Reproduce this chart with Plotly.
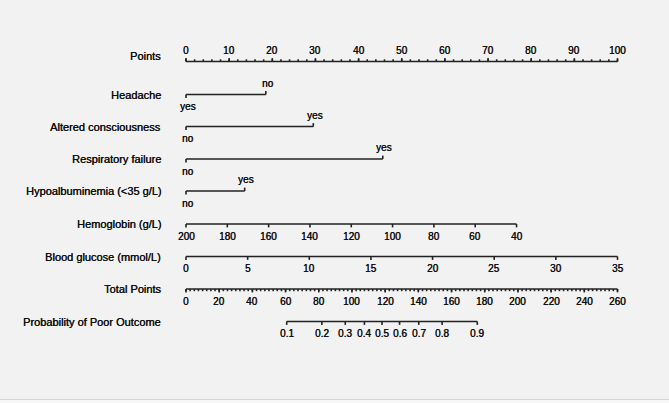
import numpy as np
import plotly.graph_objects as go

# ---------------- data ----------------
points_ticks = list(range(0, 101, 10))
points_minor_step = 2

headache_levels = ["yes", "no"]
headache_points = [0, 18.5]
altered_levels = ["no", "yes"]
altered_points = [0, 29.5]
resp_levels = ["no", "yes"]
resp_points = [0, 45.6]
hypo_levels = ["no", "yes"]
hypo_points = [0, 13.6]

hemoglobin_ticks = [200, 180, 160, 140, 120, 100, 80, 60, 40]
hemoglobin_points_at_min = 76.6   # points for 40 g/L (200 g/L -> 0)
glucose_ticks = [0, 5, 10, 15, 20, 25, 30, 35]
glucose_points_at_max = 100.0     # points for 35 mmol/L

total_ticks = list(range(0, 261, 20))
total_minor_step = 2.5
total_max = 260

prob_ticks = [0.1, 0.2, 0.3, 0.4, 0.5, 0.6, 0.7, 0.8, 0.9]
prob_total_at_half = 118.1        # total points where p = 0.5
prob_total_per_logit = 26.13      # total points per unit of log-odds

# ---------------- styling / layout ----------------
W, H = 669, 403
PX0, PX100 = 186.0, 617.5
ppp = (PX100 - PX0) / 100.0
xr = [-PX0 / ppp, (W - PX0) / ppp]

LINE = "#222222"
TXT = "#0d0d0d"
FONT = "Liberation Sans, Arial, sans-serif"
SHADOW = "0.35px 0px 0px #0d0d0d"
LW = 1.6
TICK = 3.4
MINOR = 2.2

rows = {
    "Points": 61.5,
    "Headache": 94.5,
    "Altered consciousness": 126.5,
    "Respiratory failure": 159.0,
    "Hypoalbuminemia (<35 g/L)": 191.0,
    "Hemoglobin (g/L)": 224.0,
    "Blood glucose (mmol/L)": 256.5,
    "Total Points": 289.0,
    "Probability of Poor Outcome": 321.5,
}
label_dy = {"Points": -6}

fig = go.Figure()
annotations = []


def add_text(x, y, text, size=10, xanchor="center", xref="x"):
    annotations.append(dict(x=x, y=y, xref=xref, yref="y", text=text, showarrow=False,
                            xanchor=xanchor, yanchor="middle",
                            font=dict(family=FONT, size=size, color=TXT, shadow=SHADOW)))


def add_axis(y, pos, labels, minor=None, up=False, label_side="below"):
    xs, ys = [min(pos), max(pos)], [y, y]
    d = -TICK if up else TICK
    for p in pos:
        xs += [None, p, p]
        ys += [None, y, y + d]
    if minor is not None:
        dm = -MINOR if up else MINOR
        for p in minor:
            xs += [None, p, p]
            ys += [None, y, y + dm]
    fig.add_trace(go.Scatter(x=xs, y=ys, mode="lines", line=dict(color=LINE, width=LW),
                             hoverinfo="skip", showlegend=False))
    off = -11.5 if label_side == "above" else 12
    for p, t in zip(pos, labels):
        add_text(p, y + off, t)


def add_cat(y, pts, levels):
    xs, ys = [min(pts), max(pts)], [y, y]
    for p in pts:
        up = p != min(pts)
        xs += [None, p, p]
        ys += [None, y, y + (-TICK if up else TICK)]
    fig.add_trace(go.Scatter(x=xs, y=ys, mode="lines", line=dict(color=LINE, width=LW),
                             hoverinfo="skip", showlegend=False))
    for p, t in zip(pts, levels):
        up = p != min(pts)
        add_text(p + 0.4, y + (-11.5 if up else 12), t)


# Points
y = rows["Points"]
add_axis(y, points_ticks, [str(v) for v in points_ticks],
         minor=list(np.arange(0, 100.001, points_minor_step)), up=True, label_side="above")

add_cat(rows["Headache"], headache_points, headache_levels)
add_cat(rows["Altered consciousness"], altered_points, altered_levels)
add_cat(rows["Respiratory failure"], resp_points, resp_levels)
add_cat(rows["Hypoalbuminemia (<35 g/L)"], hypo_points, hypo_levels)

hb_max, hb_min = max(hemoglobin_ticks), min(hemoglobin_ticks)
hb_pos = [(hb_max - v) / (hb_max - hb_min) * hemoglobin_points_at_min for v in hemoglobin_ticks]
add_axis(rows["Hemoglobin (g/L)"], hb_pos, [str(v) for v in hemoglobin_ticks])

gl_max = max(glucose_ticks)
gl_pos = [v / gl_max * glucose_points_at_max for v in glucose_ticks]
add_axis(rows["Blood glucose (mmol/L)"], gl_pos, [str(v) for v in glucose_ticks])

tp_pos = [v / total_max * 100 for v in total_ticks]
tp_minor = [v / total_max * 100 for v in np.arange(0, total_max + 0.001, total_minor_step)]
add_axis(rows["Total Points"], tp_pos, [str(v) for v in total_ticks], minor=tp_minor)

pr = np.array(prob_ticks)
pr_total = prob_total_at_half + np.log(pr / (1 - pr)) * prob_total_per_logit
pr_pos = list(pr_total / total_max * 100)
add_axis(rows["Probability of Poor Outcome"], pr_pos, [f"{v:.1f}" for v in prob_ticks])

# row labels
label_x = (162.5 - PX0) / ppp
for name, yy in rows.items():
    add_text(label_x, yy + label_dy.get(name, 0), name, size=11, xanchor="right")

fig.update_layout(
    width=W, height=H,
    margin=dict(l=0, r=0, t=0, b=0),
    paper_bgcolor="#f2f2f2", plot_bgcolor="#f2f2f2",
    xaxis=dict(range=xr, visible=False, fixedrange=True),
    yaxis=dict(range=[H, 0], visible=False, fixedrange=True),
    annotations=annotations,
    shapes=[dict(type="line", xref="paper", yref="y", x0=0, x1=1, y0=399.5, y1=399.5,
                 line=dict(color="#d6d6d6", width=1)),
            dict(type="rect", xref="paper", yref="y", x0=0, x1=1, y0=400, y1=403,
                 fillcolor="#f7f7f7", line=dict(width=0))],
)

fig.write_html("out.html")
